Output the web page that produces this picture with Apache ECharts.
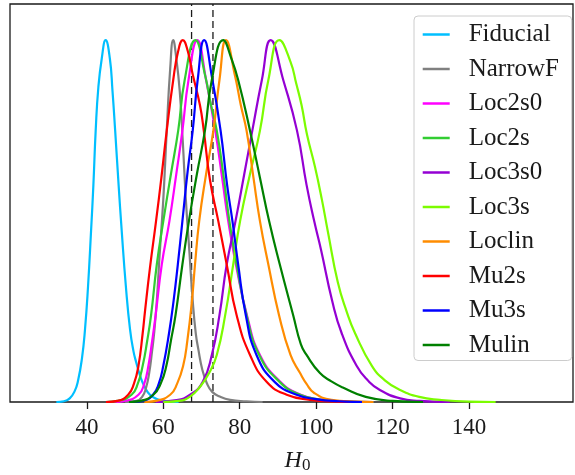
<!DOCTYPE html>
<html>
<head>
<meta charset="utf-8">
<script src="https://cdn.jsdelivr.net/npm/echarts@6/dist/echarts.min.js"></script>
<style>
  html, body { margin: 0; padding: 0; background: #ffffff; }
  #chart { width: 575px; height: 475px; }
</style>
</head>
<body>
<div id="chart"></div>
<script>
// ---- data (H0, normalised density) ----
const fiducial = [[32,0],[34,0.002],[35.5,0.01],[36.8,0.03],[37.7,0.06],[38.7,0.12],[39.5,0.2],[40.3,0.32],[41.1,0.475],[41.7,0.6],[42.3,0.75],[43.0,0.87],[43.9,0.95],[44.9,1.0],[46.0,0.95],[46.7,0.86],[47.4,0.75],[48.3,0.6],[49.1,0.475],[50.2,0.32],[51.3,0.2],[52.2,0.14],[52.9,0.11],[54.0,0.07],[55.2,0.04],[56.5,0.02],[58.3,0.008],[61,0.002],[64,0]];
const narrowF = [[50,0],[53,0.003],[54.5,0.015],[55.5,0.04],[56.3,0.08],[57.1,0.144],[57.6,0.19],[58.3,0.28],[59.0,0.4],[60.0,0.56],[60.9,0.75],[61.8,0.92],[62.6,1.0],[63.4,0.95],[64.3,0.86],[65.1,0.72],[65.9,0.56],[66.8,0.42],[67.7,0.28],[68.5,0.19],[69.2,0.144],[70.2,0.09],[71.4,0.052],[72.8,0.028],[74.8,0.015],[77.5,0.006],[81.8,0.002],[86,0]];
const loc2s0 = [[47,0],[50,0.003],[53.5,0.02],[55.0,0.05],[56.1,0.1],[57.1,0.17],[58.0,0.24],[59.6,0.38],[61.6,0.5],[63.4,0.63],[65.0,0.75],[66.6,0.89],[68.9,1.0],[71.2,0.89],[73.6,0.75],[75.4,0.62],[77.0,0.5],[79.0,0.38],[81.9,0.24],[85.3,0.13],[90.7,0.055],[96,0.02],[101,0.007],[107,0.002],[115,0]];
const loc2s = [[45,0],[48,0.003],[51.7,0.02],[53.3,0.05],[54.6,0.1],[55.8,0.17],[56.8,0.24],[58.3,0.38],[60.0,0.5],[62.0,0.63],[63.9,0.75],[65.6,0.89],[68.4,1.0],[71.0,0.9],[72.5,0.82],[74.0,0.75],[75.7,0.63],[77.3,0.5],[79.2,0.38],[81.8,0.24],[85.1,0.13],[90.5,0.055],[95.8,0.02],[101,0.007],[107,0.002],[115,0]];
const loc3s0 = [[58,0],[63.5,0.005],[67.0,0.02],[70.3,0.055],[72.7,0.13],[74.7,0.24],[76.6,0.38],[78.9,0.5],[81.2,0.63],[83.3,0.75],[85.8,0.89],[88.1,1.0],[91.4,0.89],[95.0,0.75],[97.5,0.6],[99.5,0.5],[101.3,0.42],[104.2,0.28],[106.7,0.19],[110.6,0.1],[113.5,0.06],[116.7,0.033],[122,0.01],[127,0.003],[135,0]];
const loc3s = [[60,0],[64,0.003],[67,0.015],[69.6,0.042],[72,0.08],[74.0,0.13],[76.2,0.24],[78.3,0.38],[80.1,0.5],[82.7,0.63],[85.3,0.75],[87.5,0.89],[90.4,1.0],[93.3,0.94],[94.8,0.88],[96.2,0.82],[97.6,0.74],[99.7,0.65],[101.5,0.56],[103.1,0.47],[105.7,0.33],[108,0.25],[110.2,0.19],[114.6,0.1],[118,0.06],[122,0.033],[127,0.014],[132.4,0.006],[140,0.001],[147,0]];
const loclin = [[55,0],[58,0.003],[61.8,0.02],[63.6,0.05],[65.2,0.1],[66.3,0.17],[67.5,0.28],[68.3,0.38],[69.4,0.5],[71.2,0.63],[73.1,0.75],[74.7,0.89],[76.4,1.0],[78.8,0.9],[80.3,0.82],[81.8,0.75],[83.6,0.62],[85.3,0.5],[87.5,0.38],[90.3,0.24],[93.3,0.13],[95.8,0.08],[97.5,0.05],[99.5,0.025],[104,0.006],[110,0.001],[115,0]];
const mu2s = [[45,0],[48,0.003],[50.8,0.02],[52.3,0.05],[53.5,0.1],[54.6,0.19],[55.2,0.25],[56.5,0.37],[58.1,0.5],[59.5,0.62],[60.9,0.75],[62.6,0.89],[63.9,0.97],[65.1,1.0],[66.4,0.97],[67.6,0.91],[69.6,0.82],[70.6,0.75],[72.2,0.615],[74.4,0.5],[76.6,0.38],[79.2,0.24],[82.7,0.13],[87.1,0.055],[92.3,0.02],[98.4,0.006],[105,0.001],[110,0]];
const mu3s = [[52,0],[55,0.004],[57.3,0.02],[58.8,0.05],[60.0,0.1],[61.5,0.19],[62.7,0.28],[63.8,0.38],[65.0,0.5],[66.4,0.64],[67.7,0.75],[69.0,0.89],[70.7,1.0],[72.7,0.9],[75.0,0.75],[76.7,0.6],[78.1,0.5],[79.6,0.38],[81.6,0.24],[84.4,0.13],[89.2,0.055],[94.9,0.02],[100,0.008],[106,0.002],[112,0]];
const mulin = [[51,0],[54,0.003],[57.4,0.02],[59.3,0.05],[60.8,0.1],[62.0,0.17],[63.2,0.24],[65.0,0.38],[66.7,0.5],[68.8,0.63],[70.9,0.75],[72.7,0.89],[75.7,1.0],[77.8,0.95],[79.6,0.89],[82.7,0.75],[85.3,0.62],[87.7,0.5],[90.5,0.38],[94.0,0.24],[96,0.16],[97.5,0.13],[101,0.08],[104,0.057],[107,0.04],[113,0.014],[120,0.003],[128,0]];

const seriesNames = ['Fiducial','NarrowF','Loc2s0','Loc2s','Loc3s0','Loc3s','Loclin','Mu2s','Mu3s','Mulin'];
const seriesData = [fiducial, narrowF, loc2s0, loc2s, loc3s0, loc3s, loclin, mu2s, mu3s, mulin];
const refLines = [67.4, 73.0];
const xTicks = [40, 60, 80, 100, 120, 140];
const xRange = [19.87, 167.25];
const yRange = [0, 1.1];

// ---- styles ----
const colors = ['#00BFFF','#808080','#FF00FF','#32CD32','#9400D3','#7CFC00','#FF8C00','#FF0000','#0000FF','#008000'];
const ink = '#1a1a1a';
const serif = 'Liberation Serif';

const series = [];
refLines.forEach(function (v) {
  series.push({
    type: 'line',
    data: [[v, yRange[0]], [v, yRange[1]]],
    symbol: 'none',
    silent: true,
    lineStyle: { color: ink, width: 1.3, type: [7, 4] },
    z: 1
  });
});
seriesNames.forEach(function (n, i) {
  series.push({
    type: 'line',
    name: n,
    data: seriesData[i],
    symbol: 'none',
    showSymbol: false,
    smooth: 0.5,
    lineStyle: { color: colors[i], width: 2.2 },
    itemStyle: { color: colors[i] },
    z: 2
  });
});

const chart = echarts.init(document.getElementById('chart'), null, { renderer: 'canvas' });
chart.setOption({
  animation: false,
  backgroundColor: '#ffffff',
  grid: { left: 10, right: 2, top: 4, bottom: 73, show: true, borderColor: ink, borderWidth: 1.3, backgroundColor: 'transparent', containLabel: false, outerBoundsMode: 'none' },
  xAxis: {
    type: 'value',
    min: xRange[0], max: xRange[1],
    axisLine: { show: false },
    splitLine: { show: false },
    axisTick: { show: true, inside: false, length: 7, customValues: xTicks, lineStyle: { color: ink, width: 1.3 } },
    axisLabel: { customValues: xTicks, margin: 14, fontFamily: serif, fontSize: 23, lineHeight: 23, color: ink },
    name: '{h|H}{s|0}',
    nameLocation: 'middle',
    nameGap: 47,
    nameTextStyle: {
      padding: [0, 0, 0, 12],
      rich: {
        h: { fontFamily: serif, fontStyle: 'italic', fontSize: 24, lineHeight: 24, color: ink, verticalAlign: 'top' },
        s: { fontFamily: serif, fontSize: 17, lineHeight: 17, color: ink, verticalAlign: 'top', padding: [8, 0, 0, 0] }
      }
    }
  },
  yAxis: {
    type: 'value',
    min: yRange[0], max: yRange[1],
    axisLine: { show: false },
    axisTick: { show: false },
    axisLabel: { show: false },
    splitLine: { show: false }
  },
  legend: {
    data: seriesNames,
    orient: 'vertical',
    left: 414, top: 16,
    padding: [6, 6, 3, 8.7],
    itemGap: 9.5,
    itemWidth: 27,
    itemHeight: 2.5,
    icon: 'rect',
    selectedMode: false,
    backgroundColor: 'rgba(255,255,255,0.8)',
    borderColor: '#cccccc',
    borderWidth: 1,
    borderRadius: 4,
    textStyle: { fontFamily: serif, fontSize: 25, lineHeight: 24, color: ink, width: 97, padding: [0, 0, 0, 14] }
  },
  series: series
});
</script>
</body>
</html>
